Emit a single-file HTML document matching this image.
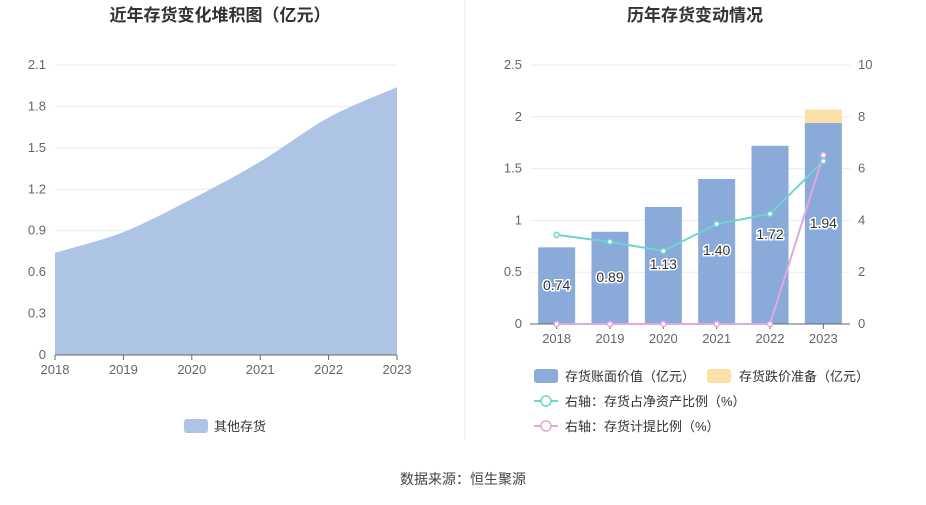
<!DOCTYPE html>
<html><head><meta charset="utf-8"><style>
body{margin:0;background:#fff;font-family:"Liberation Sans","Noto Sans CJK SC",sans-serif}
svg text{font-family:"Liberation Sans","Noto Sans CJK SC",sans-serif}
</style></head><body>
<svg id="c" width="926" height="500" xmlns="http://www.w3.org/2000/svg"></svg>
<script>
const years=['2018','2019','2020','2021','2022','2023'];
const stockValues=[0.74,0.89,1.13,1.40,1.72,1.94];
const leftTicks=[0,0.3,0.6,0.9,1.2,1.5,1.8,2.1];
const bookValues=[0.74,0.89,1.13,1.40,1.72,1.94];
const reserveValues=[0,0,0,0,0,0.13];
const ratioValues=[3.44,3.17,2.82,3.86,4.25,6.29];
const provisionValues=[0,0,0,0,0,6.52];
const rLeftTicks=[0,0.5,1,1.5,2,2.5];
const rRightTicks=[0,2,4,6,8,10];

const svg=document.getElementById('c');const NS='http://www.w3.org/2000/svg';
function mk(t,a,p,name,txt){const e=document.createElementNS(NS,t);for(const k in a)e.setAttribute(k,a[k]);


if(txt!==undefined)e.textContent=txt;(p||svg).appendChild(e);return e;}
mk('text',{x:220,y:21,'text-anchor':'middle','font-size':17,'font-weight':'bold',fill:'#333'},null,'left-chart-title','近年存货变化堆积图（亿元）');
mk('text',{x:695,y:21,'text-anchor':'middle','font-size':17,'font-weight':'bold',fill:'#333'},null,'right-chart-title','历年存货变动情况');
mk('line',{x1:465,y1:0,x2:465,y2:440,stroke:'#eee'},null,'panel-divider');
const lx=i=>55+i*(397-55)/5, ly=v=>355-v/2.1*290;
leftTicks.forEach(t=>{if(t>0)mk('line',{x1:55,x2:397,y1:ly(t),y2:ly(t),stroke:'#e8ebf2'},null,'left-gridline');
mk('text',{x:46,y:ly(t)+4,'text-anchor':'end','font-size':13,fill:'#666'},null,'left-y-tick',String(t));});
let pts=stockValues.map((v,i)=>[lx(i),ly(v)]);
let d='M'+pts[0][0]+','+pts[0][1];
for(let i=0;i<pts.length-1;i++){const p0=pts[Math.max(i-1,0)],p1=pts[i],p2=pts[i+1],p3=pts[Math.min(i+2,pts.length-1)];
const s=0.15;d+=`C${p1[0]+(p2[0]-p0[0])*s},${p1[1]+(p2[1]-p0[1])*s} ${p2[0]-(p3[0]-p1[0])*s},${p2[1]-(p3[1]-p1[1])*s} ${p2[0]},${p2[1]}`;}
mk('path',{d:d+`L${lx(5)},${ly(0)}L${lx(0)},${ly(0)}Z`,fill:'#aec4e5'},null,'area-other-inventory');
mk('line',{x1:55,x2:397,y1:355,y2:355,stroke:'#666'},null,'left-x-axis');
years.forEach((y,i)=>{mk('line',{x1:lx(i),x2:lx(i),y1:355,y2:360,stroke:'#666'},null,'left-x-tick-mark');
mk('text',{x:lx(i),y:374,'text-anchor':'middle','font-size':13,fill:'#666'},null,'left-x-tick',y);});
mk('rect',{x:184,y:419,width:24,height:14,rx:3,fill:'#aec4e5'},null,'legend-other-inventory-swatch');
mk('text',{x:214,y:431,'font-size':13,fill:'#333'},null,'legend-other-inventory','其他存货');
const bw=(850-530)/6, rx=i=>530+bw*(i+0.5), ry=v=>324-v/2.5*259, ry2=v=>324-v/10*259;
rLeftTicks.forEach(t=>{if(t>0)mk('line',{x1:530,x2:850,y1:ry(t),y2:ry(t),stroke:'#e8ebf2'},null,'right-gridline');
mk('text',{x:522,y:ry(t)+4,'text-anchor':'end','font-size':13,fill:'#666'},null,'right-left-y-tick',String(t));});
rRightTicks.forEach(t=>mk('text',{x:858,y:ry2(t)+4,'font-size':13,fill:'#666'},null,'right-right-y-tick',String(t)));
bookValues.forEach((v,i)=>{mk('rect',{x:rx(i)-18.5,y:ry(v),width:37,height:ry(0)-ry(v),fill:'#8aaad9'},null,'bar-book-'+years[i]);
if(reserveValues[i]>0)mk('rect',{x:rx(i)-18.5,y:ry(v+reserveValues[i]),width:37,height:ry(v)-ry(v+reserveValues[i]),fill:'#fde0a8'},null,'bar-reserve-'+years[i]);});
mk('line',{x1:530,x2:850,y1:324,y2:324,stroke:'#666'},null,'right-x-axis');
years.forEach((y,i)=>{mk('line',{x1:rx(i),x2:rx(i),y1:324,y2:329,stroke:'#666'},null,'right-x-tick-mark');
mk('text',{x:rx(i),y:343,'text-anchor':'middle','font-size':13,fill:'#666'},null,'right-x-tick',y);});
mk('polyline',{points:ratioValues.map((v,i)=>rx(i)+','+ry2(v)).join(' '),fill:'none',stroke:'#6fd3d3','stroke-width':2},null,'line-inventory-ratio');
mk('polyline',{points:provisionValues.map((v,i)=>rx(i)+','+ry2(v)).join(' '),fill:'none',stroke:'#e0a8dc','stroke-width':2},null,'line-provision-ratio');
ratioValues.forEach((v,i)=>mk('circle',{cx:rx(i),cy:ry2(v),r:2.5,fill:'#fff',stroke:'#6fd3d3','stroke-width':1.5},null,'point-ratio'));
provisionValues.forEach((v,i)=>mk('circle',{cx:rx(i),cy:ry2(v),r:2.5,fill:'#fff',stroke:'#e0a8dc','stroke-width':1.5},null,'point-provision'));
const labY=[290,282,269,255,239,228];
bookValues.forEach((v,i)=>mk('text',{x:rx(i),y:labY[i],'text-anchor':'middle','font-size':14,fill:'#333',stroke:'#fff','stroke-width':3,'paint-order':'stroke'},null,'bar-label',v.toFixed(2)));
mk('rect',{x:534,y:369,width:24,height:14,rx:3,fill:'#8aaad9'},null,'legend-book-swatch');
mk('text',{x:565,y:381,'font-size':13,fill:'#333'},null,'legend-book','存货账面价值（亿元）');
mk('rect',{x:707,y:369,width:24,height:14,rx:3,fill:'#fde0a8'},null,'legend-reserve-swatch');
mk('text',{x:739,y:381,'font-size':13,fill:'#333'},null,'legend-reserve','存货跌价准备（亿元）');
[[401,'#6fd3d3','右轴：存货占净资产比例（%）','legend-ratio'],[426,'#e0a8dc','右轴：存货计提比例（%）','legend-provision']].forEach(r=>{
mk('line',{x1:534,x2:558,y1:r[0],y2:r[0],stroke:r[1],'stroke-width':2},null,r[3]+'-line');
mk('circle',{cx:546,cy:r[0],r:5,fill:'#fff',stroke:r[1],'stroke-width':1.5},null,r[3]+'-marker');
mk('text',{x:565,y:r[0]+5,'font-size':13,fill:'#333'},null,r[3],r[2]);});
mk('text',{x:463,y:484,'text-anchor':'middle','font-size':14,fill:'#444'},null,'source-note','数据来源：恒生聚源');
</script>
</body></html>
